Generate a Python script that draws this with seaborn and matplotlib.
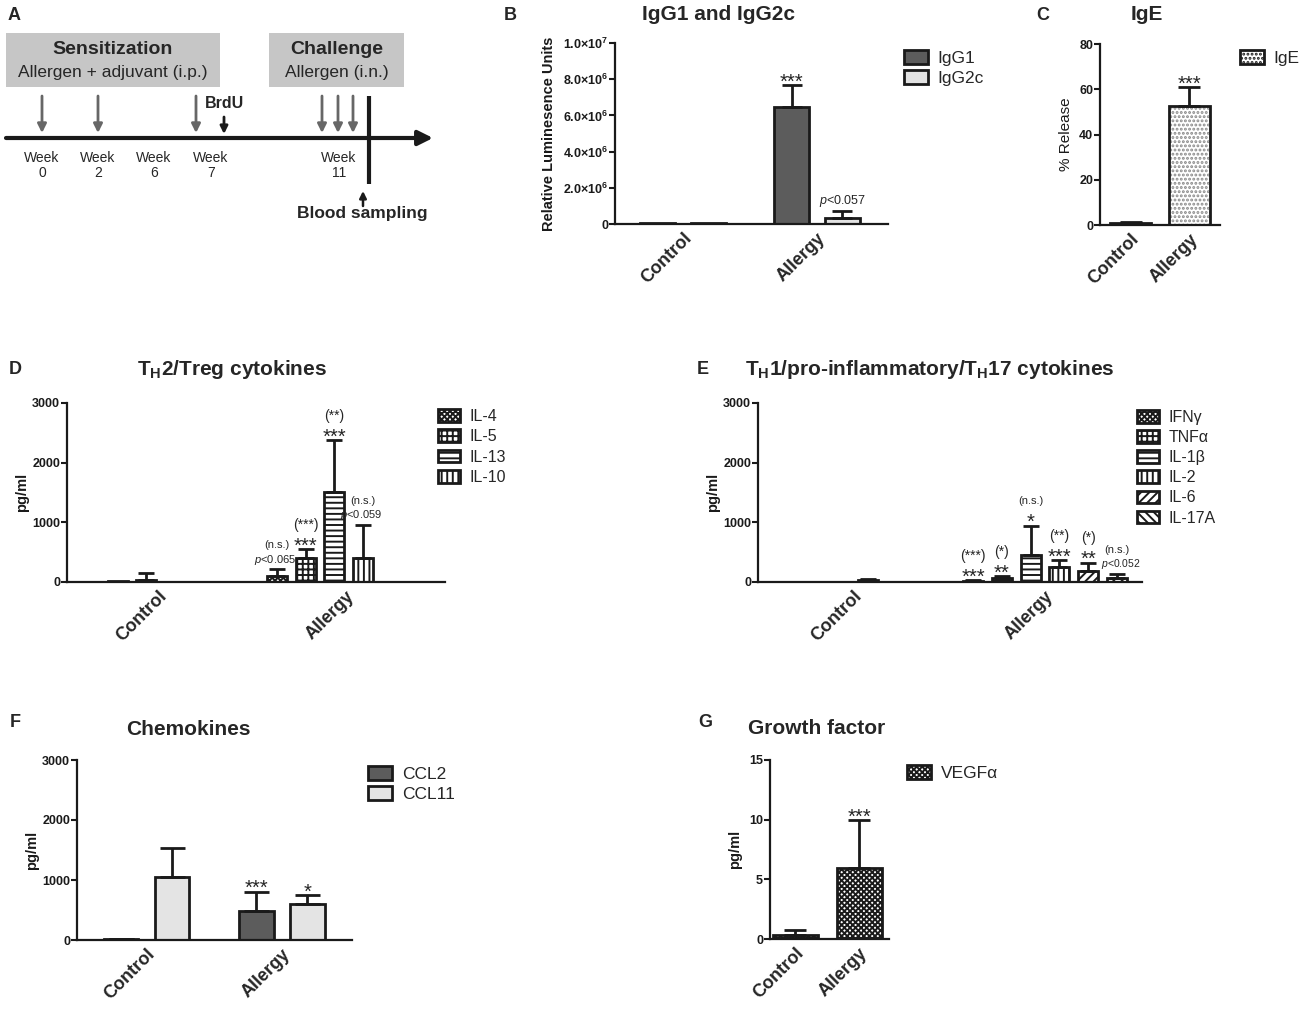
import numpy as np
import pandas as pd
import matplotlib
matplotlib.use("Agg")
import matplotlib.pyplot as plt
import matplotlib.transforms as mtransforms
import seaborn as sns
from matplotlib.patches import Patch, Rectangle
from matplotlib.container import BarContainer

sns.set_theme(style="white")
plt.rcParams["font.family"] = ["Liberation Sans", "DejaVu Sans"]
plt.rcParams["mathtext.fontset"] = "custom"
plt.rcParams["mathtext.rm"] = "Liberation Sans"
plt.rcParams["mathtext.it"] = "Liberation Sans:italic"
plt.rcParams["mathtext.bf"] = "Liberation Sans:bold"
plt.rcParams["hatch.linewidth"] = 1.4

# ---------------- data ----------------
groups = ["Control", "Allergy"]

# Panel A timeline
week_labels = ["0", "2", "6", "7", "11"]

# Panel B
igg_series = ["IgG1", "IgG2c"]
igg1_mean = [0.03e6, 6.48e6]
igg1_err = [0.0, 1.20e6]
igg2c_mean = [0.03e6, 0.31e6]
igg2c_err = [0.0, 0.42e6]
igg1_ann = ["", "***"]
igg2c_ann = ["", "$p$<0.057"]
igg_ticks = [0, 2e6, 4e6, 6e6, 8e6, 1e7]
igg_ticklabels = ["0", r"2.0×10$^{\mathbf{6}}$", r"4.0×10$^{\mathbf{6}}$",
                  r"6.0×10$^{\mathbf{6}}$", r"8.0×10$^{\mathbf{6}}$", r"1.0×10$^{\mathbf{7}}$"]

# Panel C
ige_series = ["IgE"]
ige_mean = [1.0, 52.6]
ige_err = [0.3, 8.3]
ige_ann = ["", "***"]
ige_ticks = [0, 20, 40, 60, 80]

# Panel D
th2_series = ["IL-4", "IL-5", "IL-13", "IL-10"]
il4_mean = [3, 100]
il4_err = [0, 112]
il5_mean = [20, 407]
il5_err = [0, 146]
il13_mean = [40, 1503]
il13_err = [105, 877]
il10_mean = [5, 407]
il10_err = [0, 548]
il4_ann = ["", "(n.s.)|$p$<0.065"]
il5_ann = ["", "(***)|***"]
il13_ann = ["", "(**)|***"]
il10_ann = ["", "(n.s.)|$p$<0.059"]

# Panel E
th1_series = ["IFNγ", "TNFα", "IL-1β", "IL-2", "IL-6", "IL-17A"]
ifng_mean = [8, 20]
ifng_err = [0, 12]
tnfa_mean = [6, 73]
tnfa_err = [0, 27]
il1b_mean = [8, 452]
il1b_err = [0, 492]
il2_mean = [35, 257]
il2_err = [15, 112]
il6_mean = [8, 184]
il6_err = [0, 140]
il17a_mean = [6, 62]
il17a_err = [0, 72]
ifng_ann = ["", "(***)|***"]
tnfa_ann = ["", "(*)|**"]
il1b_ann = ["", "(n.s.)|*"]
il2_ann = ["", "(**)|***"]
il6_ann = ["", "(*)|**"]
il17a_ann = ["", "(n.s.)|$p$<0.052"]
cyt_ticks = [0, 1000, 2000, 3000]

# Panel F
ccl_series = ["CCL2", "CCL11"]
ccl2_mean = [15, 488]
ccl2_err = [8, 317]
ccl11_mean = [1055, 600]
ccl11_err = [473, 150]
ccl2_ann = ["", "***"]
ccl11_ann = ["", "*"]

# Panel G
vegf_series = ["VEGFα"]
vegf_mean = [0.34, 5.98]
vegf_err = [0.41, 3.99]
vegf_ann = ["", "***"]
vegf_ticks = [0, 5, 10, 15]

# ---------------- figure ----------------
W, H = 1300, 1013
fig = plt.figure(figsize=(W / 100, H / 100), dpi=100)


def ax_at(x0, y0, x1, y1):
    return fig.add_axes([x0 / W, 1 - y1 / H, (x1 - x0) / W, (y1 - y0) / H])


def ftext(x, y, s, **kw):
    fig.text(x / W, 1 - y / H, s, **kw)


def bars(ax, series, means, errs, anns, fills, hatches, hcols, width, gap,
         xlim, capsize, pfs=8, pdx=0):
    df = pd.DataFrame({
        "group": [g for s in series for g in groups],
        "series": [s for s in series for g in groups],
        "value": [v for m in means for v in m],
    })
    sns.barplot(data=df, x="group", y="value", hue="series", order=groups,
                hue_order=series, palette=dict(zip(series, fills)),
                errorbar=None, width=width, gap=gap, dodge=True,
                legend=False, saturation=1, ax=ax)
    conts = [c for c in ax.containers if isinstance(c, BarContainer)]
    for i, cont in enumerate(conts):
        xs = []
        for p in cont.patches:
            if hatches[i]:
                p.set_hatch(hatches[i])
                p.set_edgecolor(hcols[i])
                p.set_linewidth(0)
                ax.add_patch(Rectangle(p.get_xy(), p.get_width(), p.get_height(),
                                       fill=False, ec="k", lw=2, zorder=p.get_zorder() + 0.1))
            else:
                p.set_edgecolor("k")
                p.set_linewidth(2)
            xs.append(p.get_x() + p.get_width() / 2)
        xs = np.array(xs)
        m = np.array(means[i], dtype=float)
        e = np.array(errs[i], dtype=float)
        sel = e > 0
        if sel.any():
            ax.errorbar(xs[sel], m[sel], yerr=[np.zeros(sel.sum()), e[sel]],
                        fmt="none", ecolor="k", elinewidth=2, capsize=capsize,
                        capthick=2, zorder=4)
        for x, mv, ev, a in zip(xs, m, e, anns[i]):
            if not a:
                continue
            parts = a.split("|")
            top = mv + ev
            lower = parts[-1]
            if "*" in lower and "(" not in lower:
                ax.annotate(lower, (x, top), xytext=(0, 2.2), textcoords="offset points",
                            ha="center", va="center", fontsize=14.5)
            else:
                ax.annotate(lower, (x, top), xytext=(pdx, 7), textcoords="offset points",
                            ha="center", va="center", fontsize=pfs)
            if len(parts) > 1:
                up = parts[0]
                fs = 8 if "n.s." in up else 10
                ax.annotate(up, (x, top), xytext=(0, 17.5), textcoords="offset points",
                            ha="center", va="center", fontsize=fs)
    ax.set_xlim(*xlim)


def style(ax, ticks, ticklabels, ylabel, ylabel_kw, labelpad, xshift=0):
    sns.despine(ax=ax)
    for s in ["left", "bottom"]:
        ax.spines[s].set_linewidth(1.6)
        ax.spines[s].set_color("k")
    ax.set_ylim(0, ticks[-1])
    ax.set_yticks(ticks)
    ax.set_yticklabels(ticklabels, fontweight="bold", fontsize=9)
    ax.tick_params(axis="y", length=4, width=1.5, direction="out", pad=1,
                   left=True, colors="k")
    ax.tick_params(axis="x", length=0, pad=4)
    ax.set_xticks(range(len(groups)))
    ax.set_xticklabels(groups, rotation=45, ha="right", rotation_mode="anchor",
                       fontweight="bold", fontsize=13)
    if xshift:
        off = mtransforms.ScaledTranslation(xshift / 100, 0, fig.dpi_scale_trans)
        for lab in ax.get_xticklabels():
            lab.set_transform(lab.get_transform() + off)
    ax.set_xlabel("")
    ax.set_ylabel(ylabel, labelpad=labelpad, color="k", **ylabel_kw)
    ax.set_facecolor("none")


def legend(ax, series, fills, hatches, x, y, fs, spacing):
    handles = [Patch(facecolor=f, edgecolor="k", linewidth=2, hatch=h)
               for f, h in zip(fills, hatches)]
    ax.legend(handles, series, loc="upper left", bbox_to_anchor=(x / W, 1 - y / H),
              bbox_transform=fig.transFigure, frameon=False, fontsize=fs,
              handlelength=1.4, handleheight=0.85, handletextpad=0.55,
              labelspacing=spacing, borderpad=0, borderaxespad=0)


# ---------------- Panel A ----------------
axA = ax_at(0, 0, 440, 240)
axA.set_xlim(0, 440)
axA.set_ylim(240, 0)
axA.axis("off")
axA.add_patch(Rectangle((6, 33), 214, 54, fc="#c6c6c6", ec="none"))
axA.add_patch(Rectangle((269, 33), 135, 54, fc="#c6c6c6", ec="none"))
axA.text(113, 50, "Sensitization", ha="center", va="center", fontsize=14, fontweight="bold")
axA.text(113, 73, "Allergen + adjuvant (i.p.)", ha="center", va="center", fontsize=12.5)
axA.text(337, 50, "Challenge", ha="center", va="center", fontsize=14, fontweight="bold")
axA.text(337, 73, "Allergen (i.n.)", ha="center", va="center", fontsize=12.5)
axA.annotate("", xy=(433, 138), xytext=(6, 138),
             arrowprops=dict(arrowstyle="-|>", color="k", lw=3, mutation_scale=22,
                             shrinkA=0, shrinkB=0))
for xa in [42, 98, 196, 322, 338, 353]:
    axA.annotate("", xy=(xa, 133), xytext=(xa, 96),
                 arrowprops=dict(arrowstyle="-|>", color="#676767", lw=2,
                                 mutation_scale=13, shrinkA=0, shrinkB=0))
axA.annotate("", xy=(224, 134), xytext=(224, 117),
             arrowprops=dict(arrowstyle="-|>", color="k", lw=2, mutation_scale=11,
                             shrinkA=0, shrinkB=0))
axA.text(224, 103, "BrdU", ha="center", va="center", fontsize=11.5, fontweight="bold")
axA.plot([369, 369], [96, 184], color="k", lw=3, solid_capstyle="butt")
for xw, wl in zip([42, 98, 154, 211, 339], week_labels):
    axA.text(xw, 158, "Week", ha="center", va="center", fontsize=10)
    axA.text(xw, 173, wl, ha="center", va="center", fontsize=10)
axA.annotate("", xy=(363, 191), xytext=(363, 206),
             arrowprops=dict(arrowstyle="-|>", color="k", lw=1.8, mutation_scale=10,
                             shrinkA=0, shrinkB=0))
axA.text(362, 213, "Blood sampling", ha="center", va="center", fontsize=12.5, fontweight="bold")

# ---------------- Panel B ----------------
axB = ax_at(615, 43, 888, 224)
fillsB = ["#5c5c5c", "#e2e2e2"]
bars(axB, igg_series, [igg1_mean, igg2c_mean], [igg1_err, igg2c_err],
     [igg1_ann, igg2c_ann], fillsB, [None, None], [None, None],
     width=0.76, gap=0.31, xlim=(-0.507, 1.53), capsize=7.5, pfs=9)
style(axB, igg_ticks, igg_ticklabels, "Relative Luminesence Units",
      dict(fontsize=10.5, fontweight="bold"), 5)
legend(axB, igg_series, fillsB, [None, None], 904, 50, 12.5, 0.22)

# ---------------- Panel C ----------------
axC = ax_at(1100, 44, 1220, 225)
bars(axC, ige_series, [ige_mean], [ige_err], [ige_ann], ["white"], ["...."],
     ["#8a8a8a"], width=0.69, gap=0, xlim=(-0.517, 1.517), capsize=8)
style(axC, ige_ticks, [str(t) for t in ige_ticks], "% Release",
      dict(fontsize=11), 4)
legend(axC, ige_series, ["white"], ["...."], 1240, 50, 12.5, 0.22)

# ---------------- Panel D ----------------
axD = ax_at(67, 403, 445, 582)
fillsD = ["white"] * 4
hatchD = ["xxxxxx", "+++", "---", "|||"]
bars(axD, th2_series, [il4_mean, il5_mean, il13_mean, il10_mean],
     [il4_err, il5_err, il13_err, il10_err],
     [il4_ann, il5_ann, il13_ann, il10_ann], fillsD, hatchD, ["k"] * 4,
     width=0.606, gap=0.3, xlim=(-0.346, 1.665), capsize=6, pfs=8, pdx=-1.5)
style(axD, cyt_ticks, [str(t) for t in cyt_ticks], "pg/ml",
      dict(fontsize=10.5, fontweight="bold"), 2, xshift=26)
legend(axD, th2_series, fillsD, hatchD, 438, 409, 11.5, 0.33)

# ---------------- Panel E ----------------
axE = ax_at(758, 403, 1142, 582)
fillsE = ["white"] * 6
hatchE = ["xxxxxx", "+++", "---", "|||", "////", "\\\\\\\\"]
bars(axE, th1_series, [ifng_mean, tnfa_mean, il1b_mean, il2_mean, il6_mean, il17a_mean],
     [ifng_err, tnfa_err, il1b_err, il2_err, il6_err, il17a_err],
     [ifng_ann, tnfa_ann, il1b_ann, il2_ann, il6_ann, il17a_ann],
     fillsE, hatchE, ["k"] * 6, width=0.9, gap=0.3, xlim=(-0.499, 1.507), capsize=5.5,
     pfs=7.5, pdx=3)
style(axE, cyt_ticks, [str(t) for t in cyt_ticks], "pg/ml",
      dict(fontsize=10.5, fontweight="bold"), 2)
legend(axE, th1_series, fillsE, hatchE, 1137, 410, 11.5, 0.32)

# ---------------- Panel F ----------------
axF = ax_at(77, 760, 352, 940)
fillsF = ["#5c5c5c", "#e4e4e4"]
bars(axF, ccl_series, [ccl2_mean, ccl11_mean], [ccl2_err, ccl11_err],
     [ccl2_ann, ccl11_ann], fillsF, [None, None], [None, None],
     width=0.753, gap=0.33, xlim=(-0.513, 1.517), capsize=9)
style(axF, cyt_ticks, [str(t) for t in cyt_ticks], "pg/ml",
      dict(fontsize=10.5, fontweight="bold"), 2)
legend(axF, ccl_series, fillsF, [None, None], 368, 766, 12.5, 0.22)

# ---------------- Panel G ----------------
axG = ax_at(770, 760, 889, 939)
bars(axG, vegf_series, [vegf_mean], [vegf_err], [vegf_ann], ["white"], ["xxxxxx"],
     ["k"], width=0.71, gap=0, xlim=(-0.40, 1.47), capsize=8)
style(axG, vegf_ticks, [str(t) for t in vegf_ticks], "pg/ml",
      dict(fontsize=10.5, fontweight="bold"), 5)
legend(axG, vegf_series, ["white"], ["xxxxxx"], 907, 765, 12.5, 0.22)

# ---------------- titles & letters ----------------
tkw = dict(ha="center", va="center", fontsize=15, fontweight="bold")
ftext(718, 15, "IgG1 and IgG2c", **tkw)
ftext(1147, 15, "IgE", **tkw)
ftext(232, 369, r"T$_\mathbf{H}$2/Treg cytokines", **tkw)
ftext(930, 369, r"T$_\mathbf{H}$1/pro-inflammatory/T$_\mathbf{H}$17 cytokines", **tkw)
ftext(188, 729, "Chemokines", **tkw)
ftext(817, 728, "Growth factor", **tkw)
lkw = dict(ha="center", va="center", fontsize=13, fontweight="bold")
for lx, ly, lt in [(14, 15, "A"), (510, 15, "B"), (1043, 15, "C"), (15, 369, "D"),
                   (703, 369, "E"), (15, 722, "F"), (705, 722, "G")]:
    ftext(lx, ly, lt, **lkw)

fig.savefig("out.png", dpi=100, facecolor="white")
